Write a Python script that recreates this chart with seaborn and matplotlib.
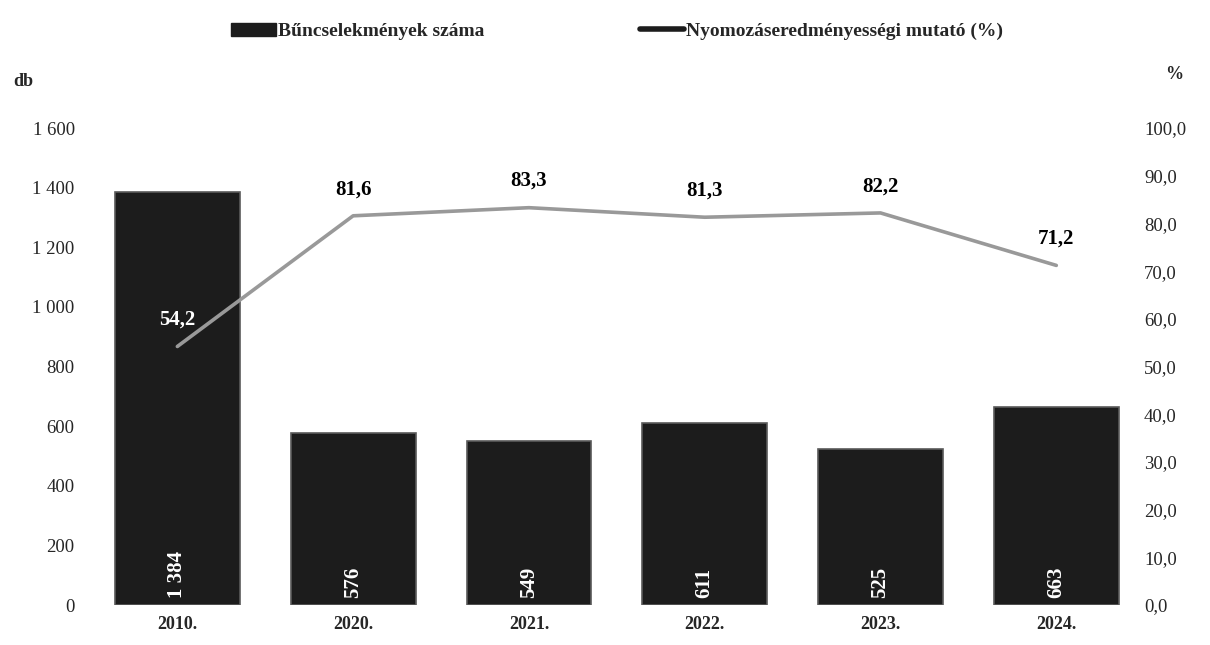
import numpy as np
import pandas as pd
import seaborn as sns
import matplotlib.pyplot as plt
from matplotlib.patches import Patch
from matplotlib.lines import Line2D

years = ["2010.", "2020.", "2021.", "2022.", "2023.", "2024."]
crimes = [1384, 576, 549, 611, 525, 663]
rate = [54.2, 81.6, 83.3, 81.3, 82.2, 71.2]

bar_label = "Bűncselekmények száma"
line_label = "Nyomozáseredményességi mutató (%)"


def hu_int(v):
    return f"{v:,}".replace(",", " ")


def hu_dec(v):
    return f"{v:.1f}".replace(".", ",")


sns.set_theme(style="white")
plt.rcParams["font.family"] = ["Liberation Serif", "DejaVu Serif"]

df = pd.DataFrame({"year": years, "crimes": crimes, "rate": rate})

fig = plt.figure(figsize=(12.1, 6.45), dpi=100)
ax = fig.add_axes([0.087, 0.062, 0.847, 0.7395])

sns.barplot(data=df, x="year", y="crimes", ax=ax, color="#1c1c1c",
            width=0.71, edgecolor="#5a5a5a", linewidth=1.2, saturation=1)
ax.set_ylim(0, 1600)
ax.set_yticks(np.arange(0, 1601, 200))
ax.set_yticklabels([hu_int(v) for v in range(0, 1601, 200)], fontsize=13.5)
ax.set_xlabel("")
ax.set_ylabel("")
ax.tick_params(axis="x", labelsize=13, length=0, pad=8)
ax.tick_params(axis="y", length=0, pad=22)
for lbl in ax.get_xticklabels():
    lbl.set_fontweight("bold")
ax.set_xlim(-0.41, 5.42)

for i, v in enumerate(crimes):
    ax.text(i, 22, hu_int(v), rotation=90, ha="center", va="bottom",
            color="white", fontsize=15, fontweight="bold")

ax2 = ax.twinx()
sns.lineplot(x=np.arange(len(rate)), y=rate, ax=ax2, color="#999999",
             linewidth=2.6)
ax2.set_ylim(0, 100)
ax2.set_yticks(np.arange(0, 101, 10))
ax2.set_yticklabels([hu_dec(v) for v in range(0, 101, 10)], fontsize=13.5)
ax2.tick_params(axis="y", length=0, pad=10)

for i, v in enumerate(rate):
    ax2.annotate(hu_dec(v), (i, v), xytext=(0, 12), textcoords="offset points",
                 ha="center", va="bottom", fontsize=15, fontweight="bold",
                 color="white" if i == 0 else "black")

for a in (ax, ax2):
    for s in a.spines.values():
        s.set_visible(False)

fig.text(0.011, 0.866, "db", fontsize=13, fontweight="bold")
fig.text(0.963, 0.878, "%", fontsize=13, fontweight="bold")

handles = [Patch(facecolor="#1c1c1c", edgecolor="#1c1c1c"),
           Line2D([0], [0], color="#1c1c1c", linewidth=4)]
fig.legend(handles, [bar_label, line_label], loc="upper center",
           bbox_to_anchor=(0.51, 0.992), ncol=2, frameon=False,
           handlelength=2.3, handletextpad=0.1, columnspacing=8,
           prop={"weight": "bold", "size": 14})

fig.savefig("out.png", dpi=100)
